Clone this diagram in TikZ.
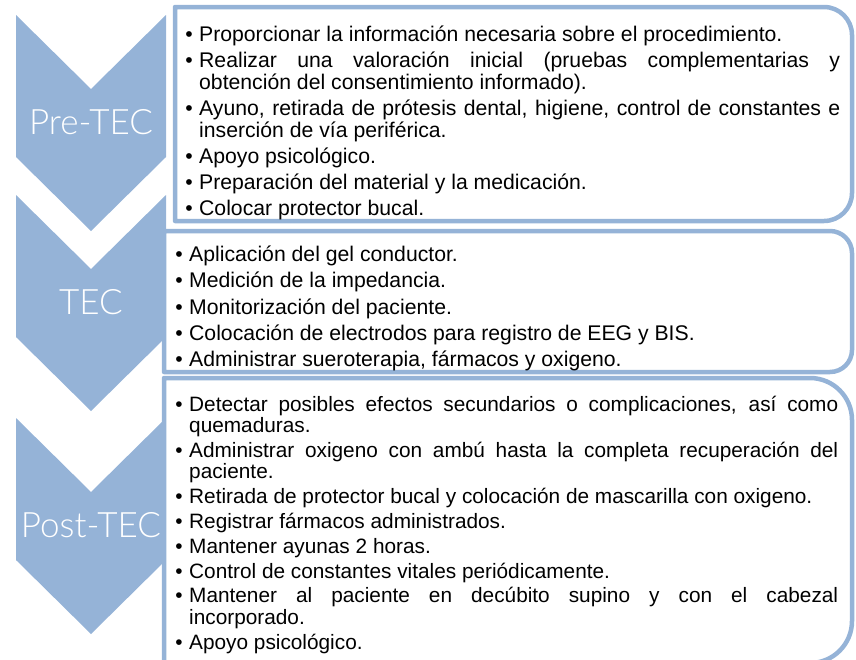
\documentclass[tikz,border=0pt]{standalone}
\usepackage{fontspec}
\setmainfont{Liberation Sans}
\newfontfamily\chevlabelfont{Lato Light}
\definecolor{chev}{HTML}{95B3D7}
\newcommand\firststrut{\rule{0pt}{21pt}}
\newcommand\bitem{\par\noindent\llap{•\hspace{6.5pt}}}
\tikzset{
  chevshape/.style={fill=chev, draw=none},
  boxline/.style={draw=chev, line width=4.5pt, fill=white, line join=round},
  chevlbl/.style={text=white, font=\chevlabelfont\fontsize{35}{35}\selectfont, inner sep=0pt},
  bodytext/.style={anchor=north west, inner sep=0pt, align=justify, text=black},
}
\begin{document}
\begin{tikzpicture}[x=1pt, y=-1pt]
\useasboundingbox (0,0) rectangle (856,659);
\clip (0,0) rectangle (856,659);
% chevrons
\fill[chevshape] (16,15) -- (91,89) -- (166,15) -- (166,157) -- (91,231) -- (16,157) -- cycle;
\fill[chevshape] (16,195) -- (91,269) -- (166,195) -- (166,337) -- (91,411) -- (16,337) -- cycle;
\fill[chevshape] (16,418) -- (91,492) -- (166,418) -- (166,560) -- (91,634) -- (16,560) -- cycle;
\node[chevlbl] (pre) at (91,122.5) {Pre-TEC};
\node[chevlbl] (tec) at (91,302.5) {TEC};
\node[chevlbl] (post) at (91,525.5) {Post-TEC};
% boxes
\draw[boxline] (175,7) -- (824,7) arc[start angle=90, end angle=0, radius=28pt] -- (852,193) arc[start angle=0, end angle=-90, radius=28pt] -- (175,221) -- cycle;
\draw[boxline] (164,231) -- (830,231) arc[start angle=90, end angle=0, radius=22pt] -- (852,350) arc[start angle=0, end angle=-90, radius=22pt] -- (164,372) -- cycle;
\draw[boxline] (164,378) -- (810,378) arc[start angle=90, end angle=0, radius=42pt] -- (852,621) arc[start angle=0, end angle=-90, radius=42pt] -- (164,663) -- cycle;
% texts
\node[bodytext, text width=641pt, font=\fontsize{21.2}{22}\selectfont] (pretext) at (199,15) {%
\hyphenpenalty=10000 \exhyphenpenalty=10000 \tolerance=9999 \setlength\parskip{4pt}%
\bitem\firststrut Proporcionar la información necesaria sobre el procedimiento.
\bitem Realizar una valoración inicial (pruebas complementarias y\linebreak obtención del consentimiento informado).
\bitem Ayuno, retirada de prótesis dental, higiene, control de constantes e\linebreak inserción de vía periférica.
\bitem Apoyo psicológico.
\bitem Preparación del material y la medicación.
\bitem Colocar protector bucal.\par};
\node[bodytext, text width=649pt, font=\fontsize{21.2}{22}\selectfont] (tectext) at (189,235) {%
\hyphenpenalty=10000 \exhyphenpenalty=10000 \tolerance=9999 \setlength\parskip{4.3pt}%
\bitem\firststrut Aplicación del gel conductor.
\bitem Medición de la impedancia.
\bitem Monitorización del paciente.
\bitem Colocación de electrodos para registro de EEG y BIS.
\bitem Administrar sueroterapia, fármacos y oxigeno.\par};
\node[bodytext, text width=649pt, font=\fontsize{20.8}{21.5}\selectfont] (posttext) at (189,386) {%
\hyphenpenalty=10000 \exhyphenpenalty=10000 \tolerance=9999 \setlength\parskip{3.3pt}%
\bitem\firststrut Detectar posibles efectos secundarios o complicaciones, así como\linebreak quemaduras.
\bitem Administrar oxigeno con ambú hasta la completa recuperación del\linebreak paciente.
\bitem Retirada de protector bucal y colocación de mascarilla con oxigeno.
\bitem Registrar fármacos administrados.
\bitem Mantener ayunas 2 horas.
\bitem Control de constantes vitales periódicamente.
\bitem Mantener al paciente en decúbito supino y con el cabezal\linebreak incorporado.
\bitem Apoyo psicológico.\par};
\end{tikzpicture}
\end{document}
